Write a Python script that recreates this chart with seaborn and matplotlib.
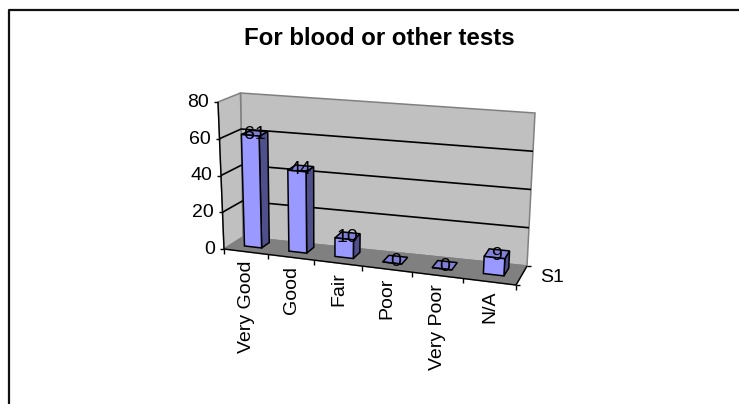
import numpy as np
import matplotlib
matplotlib.use('Agg')
import matplotlib.pyplot as plt
import matplotlib.transforms as mtransforms
import seaborn as sns

categories = ['Very Good', 'Good', 'Fair', 'Poor', 'Very Poor', 'N/A']
values = [61, 44, 10, 0, 0, 9]
y_ticks = [0, 20, 40, 60, 80]
series_name = 'S1'
title = 'For blood or other tests'

FRONT = '#9999ff'
SIDE = '#4f4f8c'
TOP = '#8080d8'
WALL = '#c0c0c0'
FLOOR = '#808080'
Y_MAX = 80
D_FRONT, D_BACK = 0.38, 0.8
PERSPECTIVE = 0.114

sns.set_theme(style='white')
plt.rcParams['font.family'] = ['Liberation Sans', 'DejaVu Sans']

W, H = 739, 404
fig = plt.figure(figsize=(W / 100, H / 100), dpi=100, facecolor='white')
ax = fig.add_axes([0, 0, 1, 1])
ax.axis('off')

# pixel positions of the eight box corners, index is (across, up, depth)
corners = np.zeros((2, 2, 2, 2))
corners[0, 0, 0] = (224, 249)
corners[1, 0, 0] = (516, 285)
corners[0, 1, 0] = (218, 102)
corners[1, 1, 0] = (525, 132)
corners[0, 0, 1] = (243, 237)
corners[1, 0, 1] = (527, 266)
corners[0, 1, 1] = (240.5, 93)
corners[1, 1, 1] = (535, 113)


def project(x, y, d):
    # category position, value and depth -> pixel, trilinear inside the box
    a = (np.asarray(x, float) + 0.5) / len(categories)
    a = a / (1 + PERSPECTIVE * (1 - a))  # left categories sit further away
    b = np.asarray(y, float) / Y_MAX
    c = np.asarray(d, float)
    out = 0
    for i, wa in enumerate((1 - a, a)):
        for j, wb in enumerate((1 - b, b)):
            for k, wc in enumerate((1 - c, c)):
                out = out + (wa * wb * wc)[..., None] * corners[i, j, k]
    return out


class PlaneAtDepth(mtransforms.Transform):
    input_dims = 2
    output_dims = 2
    is_separable = False
    has_inverse = False

    def __init__(self, plane_depth):
        super().__init__()
        self.plane_depth = plane_depth

    def transform_non_affine(self, values):
        v = np.asarray(values, float)
        return project(v[:, 0], v[:, 1], np.full(len(v), self.plane_depth))


pix = mtransforms.Affine2D().scale(1, -1).translate(0, H)


def face(xs, ys, ds, color, z=2, lw=1.1, ec='black'):
    pts = project(xs, ys, ds)
    ax.fill(pts[:, 0], pts[:, 1], facecolor=color, edgecolor=ec, linewidth=lw,
            transform=pix, zorder=z, clip_on=False)


def seg(p, q, color='black', lw=1.0, z=1.5):
    ax.plot([p[0], q[0]], [p[1], q[1]], color=color, lw=lw, transform=pix,
            zorder=z, clip_on=False, solid_capstyle='butt')


n = len(categories)
left, right = -0.5, n - 0.5

# outer chart frame, runs off the right and bottom of the picture
ax.plot([8.5, 8.5, W], [H, 9.5, 9.5], color='#111111', lw=1.6, transform=pix, clip_on=False)

# walls and floor
face([left, left, right, right], [0, Y_MAX, Y_MAX, 0], [1, 1, 1, 1], WALL, z=1, ec='#808080')
face([left, left, left, left], [0, Y_MAX, Y_MAX, 0], [0, 0, 1, 1], WALL, z=1, ec='#808080')
face([left, right, right, left], [0, 0, 0, 0], [0, 0, 1, 1], FLOOR, z=1.2, ec='#808080')

# gridlines and y axis
for t in y_ticks:
    p0, p1, p2 = project([left, left, right], [t, t, t], [0, 1, 1])
    if 0 < t < Y_MAX:
        seg(p0, p1, lw=1.2)
        seg(p1, p2, lw=1.2)
    seg((p0[0] - 4, p0[1]), p0)
    ax.text(p0[0] - 9, p0[1] + 0.5, str(t), ha='right', va='center', fontsize=14,
            color='black', transform=pix)
a0, a1 = project([left, left], [0, Y_MAX], [0, 0])
seg(a0, a1, z=1.6)

# category axis along the front of the floor
b0, b1 = project([left, right], [0, 0], [0, 0])
seg(b0, b1, z=1.6)
for i in range(n + 1):
    p = project(left + i, 0, 0)
    seg(p, (p[0], p[1] + 5), z=1.6)
for i, name in enumerate(categories):
    p = project(i, 0, 0)
    ax.text(p[0] + 0.5, p[1] + 9, name, rotation=90, ha='center', va='top',
            fontsize=14, color='black', transform=pix)

# depth axis with the series label
d0, d1 = project([right, right], [0, 0], [0, 1])
seg(d0, d1, z=1.6)
seg(d0, (d0[0] + 4, d0[1]), z=1.6)
seg(d1, (d1[0] + 4, d1[1]), z=1.6)
mid = (d0 + d1) / 2
ax.text(mid[0] + 19, mid[1] + 1.5, series_name, ha='left', va='center', fontsize=14,
        color='black', transform=pix)

# bars: seaborn draws the front faces, the box sides are built from its patches
sns.barplot(x=categories, y=values, color=FRONT, saturation=1, width=0.39,
            edgecolor='black', linewidth=1.1, ax=ax)
ax.axis('off')
front = PlaneAtDepth(D_FRONT) + pix
for bar, v in zip(list(ax.containers[0]), values):
    x0, x1 = bar.get_x(), bar.get_x() + bar.get_width()
    h = bar.get_height()
    bar.set_transform(front)
    bar.set_clip_on(False)
    bar.set_zorder(3)
    if h > 0:
        face([x1, x1, x1, x1], [0, h, h, 0], [D_FRONT, D_FRONT, D_BACK, D_BACK], SIDE, z=2.5)
    face([x0, x1, x1, x0], [h, h, h, h], [D_FRONT, D_FRONT, D_BACK, D_BACK], TOP, z=2.6)
    c = project((x0 + x1) / 2, h, (D_FRONT + D_BACK) / 2)
    ax.text(c[0], c[1] + 1.5, str(v), ha='center', va='center', fontsize=14,
            color='black', transform=pix, zorder=5)

ax.text(379.5, 38.5, title, ha='center', va='center', fontsize=17.3, fontweight='bold',
        color='black', transform=pix)

fig.savefig('out.png', dpi=100, facecolor='white')
